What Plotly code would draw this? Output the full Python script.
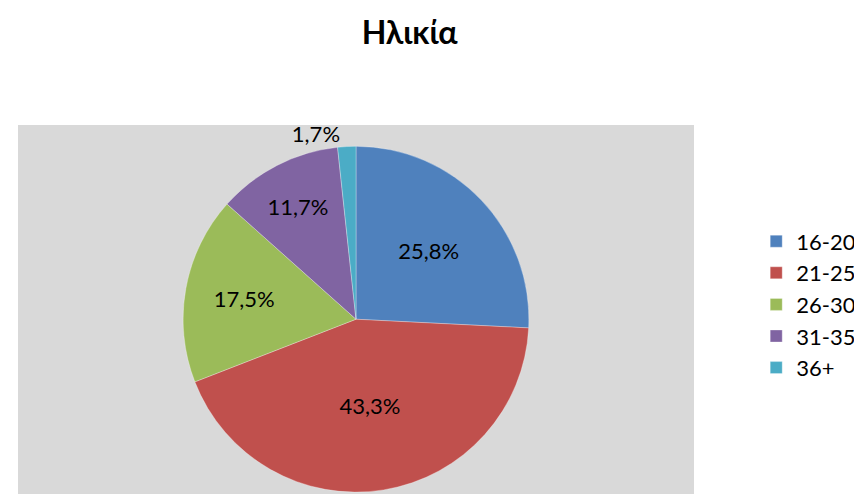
import plotly.graph_objects as go

categories = ["16-20", "21-25", "26-30", "31-35", "36+"]
shares = [25.8, 43.3, 17.5, 11.7, 1.7]
colors = ["#4F81BD", "#C0504D", "#9BBB59", "#8064A2", "#4BACC6"]

fig = go.Figure(go.Pie(
    labels=categories,
    values=shares,
    sort=False,
    direction="clockwise",
    rotation=0,
    marker=dict(colors=colors, line=dict(color="rgba(255,255,255,0.3)", width=1)),
    texttemplate="%{percent:.1%}",
    textposition=["inside", "inside", "inside", "inside", "outside"],
    insidetextorientation="horizontal",
    textfont=dict(family="Lato, Open Sans, sans-serif", size=22, color="#000000"),
    domain=dict(x=[10/862, 686/862], y=[0.02, 0.72]),
    hoverinfo="label+percent",
))

fig.update_layout(
    width=862, height=494,
    separators=",.",
    margin=dict(l=0, r=0, t=0, b=0, autoexpand=False),
    paper_bgcolor="white",
    plot_bgcolor="white",
    font=dict(family="Lato, Open Sans, sans-serif", size=22, color="#000000"),
    title=dict(text="<b>Ηλικία</b>", x=0.466, xanchor="center", y=0.95, yanchor="middle",
               font=dict(family="Lato, Open Sans, sans-serif", size=32, color="#000000")),
    legend=dict(xref="container", yref="container", x=0.868, y=0.40,
                xanchor="left", yanchor="middle",
                font=dict(size=22), itemwidth=30, bgcolor="rgba(0,0,0,0)"),
    shapes=[dict(type="rect", xref="paper", yref="paper",
                 x0=10/862, x1=686/862, y0=0, y1=1-117/494,
                 fillcolor="#D9D9D9", line=dict(width=0), layer="below")],
)

fig.write_html("out.html")
